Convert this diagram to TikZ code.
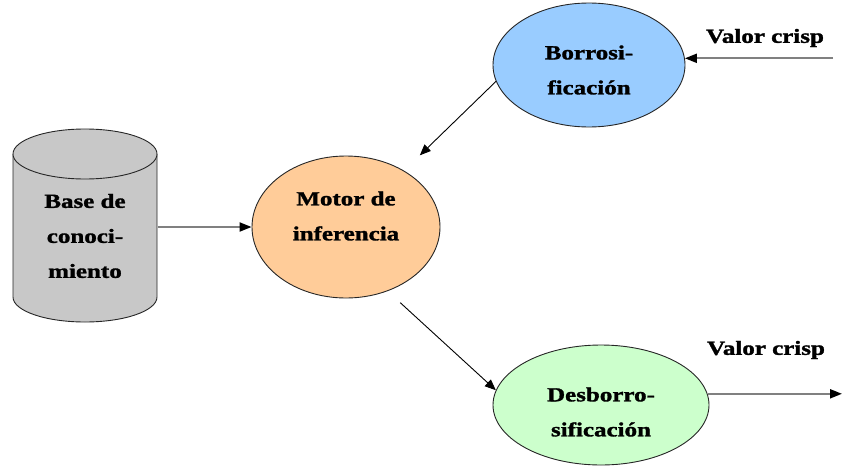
\documentclass[tikz,border=0pt]{standalone}
\usepackage{fontspec}
\setmainfont{Liberation Serif}
\newfontfamily\lblfont[FakeStretch=1.25,FakeBold=1.5]{Liberation Serif}
\usetikzlibrary{shapes.geometric,arrows.meta}
\definecolor{kbgray}{HTML}{C8C8C8}
\definecolor{motorfill}{HTML}{FFCC99}
\definecolor{borrofill}{HTML}{99CCFF}
\definecolor{desbfill}{HTML}{CCFFCC}
\definecolor{linegray}{HTML}{808080}
\tikzset{
  ell/.style={ellipse, draw=black!85, line width=0.9pt, inner sep=0pt},
  txt/.style={font=\lblfont\bfseries\fontsize{20}{35}\selectfont, align=center, inner sep=0pt},
  hconn/.style={draw=linegray, line width=2pt, -{Triangle[length=12pt,width=9pt,color=black]}},
  dconn/.style={draw=black, line width=0.9pt, -{Triangle[length=11pt,width=9pt]}},
}
\begin{document}
\begin{tikzpicture}[x=1pt,y=-1pt]
\useasboundingbox (0,0) rectangle (843,466);
% cylinder
\node[minimum width=145pt, minimum height=193pt, inner sep=0pt] (kb) at (85,227) {};
\fill[kbgray] (13,154) -- (13,297) arc[start angle=180, end angle=360, x radius=72, y radius=-25] -- (157,154) -- cycle;
\draw[black!85, line width=0.9pt] (13,154) -- (13,297) arc[start angle=180, end angle=360, x radius=72, y radius=-25] -- (157,154);
\draw[black!85, line width=0.9pt, fill=kbgray] (85,154) ellipse[x radius=72, y radius=25];
\node[txt] (kbtxt) at (85,236) {Base de\\conoci-\\miento};
% ellipses
\node[ell, fill=motorfill, minimum width=188pt, minimum height=142pt] (motor) at (346,227) {};
\node[txt] (motortxt) at (346,216) {Motor de\\inferencia};
\node[ell, fill=borrofill, minimum width=192pt, minimum height=124pt] (borro) at (589,65) {};
\node[txt] (borrotxt) at (589,70) {Borrosi-\\ficación};
\node[ell, fill=desbfill, minimum width=216pt, minimum height=120pt] (desb) at (601,405) {};
\node[txt] (desbtxt) at (601,412) {Desborro-\\sificación};
% labels
\node[txt] (vc1) at (765,38) {Valor crisp};
\node[txt] (vc2) at (766,350) {Valor crisp};
\coordinate (inp) at (833,58);
\coordinate (outp) at (842,393);
% connectors
\draw[hconn] (kb.east) -- (motor.west);
\draw[hconn] (inp |- borro.4) -- (borro.4);
\draw[hconn] (desb.6.5) -- (desb.6.5 -| outp);
\draw[dconn, shorten >=22pt] (borro.190) -- (motor);
\draw[dconn, shorten <=17pt] (motor.-57) -- (desb.172);
\end{tikzpicture}
\end{document}
